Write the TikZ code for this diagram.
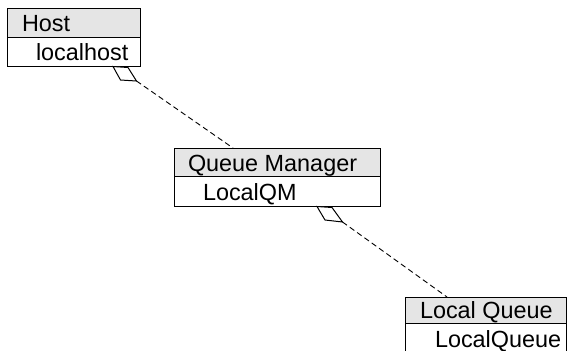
\documentclass[tikz,border=0pt]{standalone}
\usepackage{fontspec}
\setmainfont{Liberation Sans}
\usetikzlibrary{calc}
\begin{document}
\begin{tikzpicture}[x=1pt,y=-1pt,
  every node/.style={inner sep=0pt, outer sep=0pt},
  headbox/.style={draw=black, fill=black!10, line width=1pt, rectangle},
  bodybox/.style={draw=black, fill=white, line width=1pt, rectangle},
  lbl/.style={anchor=base west, font=\fontsize{23.4}{28}\selectfont, text=black},
  link/.style={draw=black, line width=0.9pt, dash pattern=on 5.5pt off 3.5pt},
  agg/.style={draw=black, fill=white, line width=1pt, line join=miter}
]
\useasboundingbox (0,0) rectangle (571,351);
\clip (0,0) rectangle (571,351);

% class boxes: header compartment and value compartment
\node[headbox, minimum width=133pt, minimum height=29pt] (hosth) at (73.5,22.5) {};
\node[bodybox, minimum width=133pt, minimum height=29pt] (hostb) at (73.5,51.5) {};
\node[headbox, minimum width=206pt, minimum height=28pt] (qmh) at (277,162) {};
\node[bodybox, minimum width=206pt, minimum height=30pt] (qmb) at (277,191) {};
\node[headbox, minimum width=161pt, minimum height=26pt] (lqh) at (485.5,310) {};
\node[bodybox, minimum width=161pt, minimum height=37pt] (lqb) at (485.5,341.5) {};

% labels
\node[lbl] (hostt) at (22,31.5) {Host};
\node[lbl] (hostv) at (36,60) {localhost};
\node[lbl] (qmt) at (188,171) {Queue Manager};
\node[lbl] (qmv) at (203,200) {LocalQM};
\node[lbl] (lqt) at (420,318) {Local Queue};
\node[lbl] (lqv) at (435,347.5) {LocalQueue};

% aggregation diamonds
\coordinate (hd1) at (113,66.5);
\coordinate (hd2) at (128,67.5);
\coordinate (hd3) at (136.5,81);
\coordinate (hd4) at (120.5,80);
\coordinate (qd1) at (317,206.5);
\coordinate (qd2) at (332,207.5);
\coordinate (qd3) at (342.5,222);
\coordinate (qd4) at (325,220);

% dashed aggregation links
\draw[link] (hd3) -- ([xshift=59pt]qmh.north west);
\draw[link] (qd3) -- ([xshift=42pt]lqh.north west);

\draw[agg] (hd1) -- (hd2) -- (hd3) -- (hd4) -- cycle;
\draw[agg] (qd1) -- (qd2) -- (qd3) -- (qd4) -- cycle;
\end{tikzpicture}
\end{document}
